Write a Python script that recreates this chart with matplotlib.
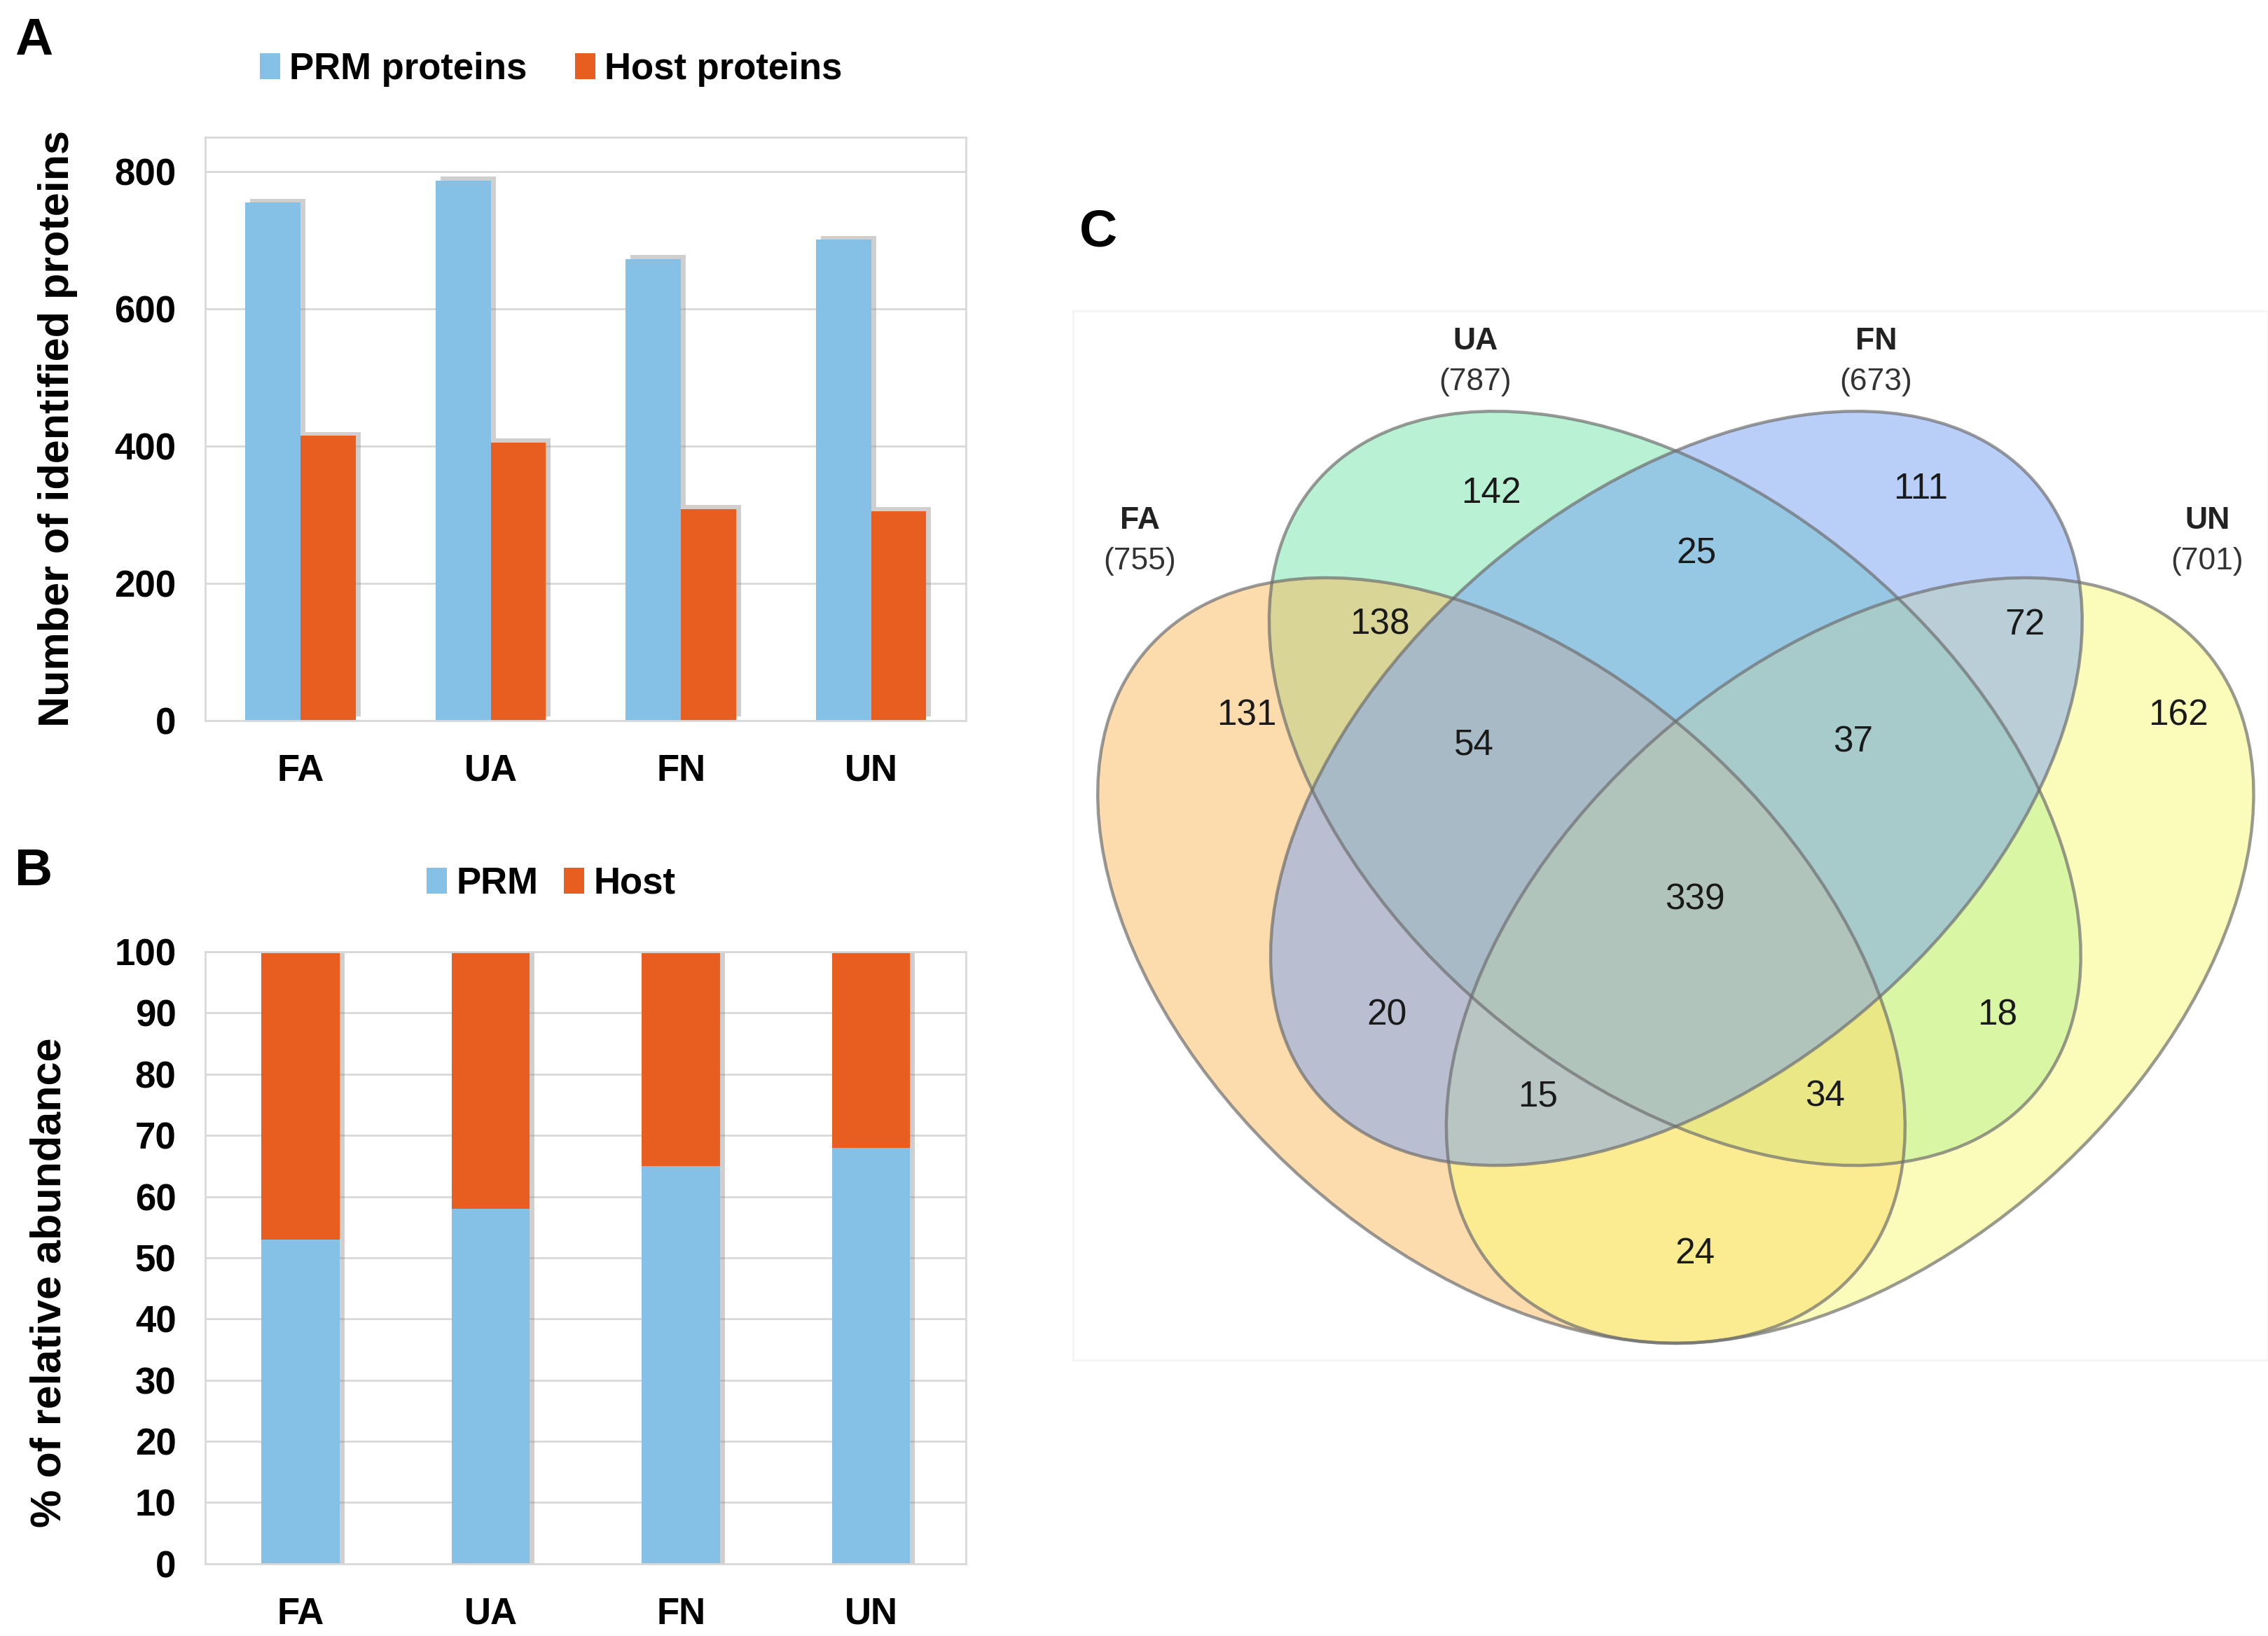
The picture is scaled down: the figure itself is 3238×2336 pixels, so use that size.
import numpy as np
import matplotlib.pyplot as plt
import matplotlib.patheffects as pe
from matplotlib.patches import Ellipse, Rectangle, Patch

plt.rcParams['font.family'] = ['Liberation Sans', 'DejaVu Sans']

# data
samples = ['FA', 'UA', 'FN', 'UN']
prm_counts = [755, 787, 673, 701]
host_counts = [415, 405, 308, 305]
prm_pct = [53, 58, 65, 68]
host_pct = [47, 42, 35, 32]

venn_sets = ['FA', 'UA', 'FN', 'UN']
venn_totals = [755, 787, 673, 701]
# membership string is (FA, UA, FN, UN)
venn_regions = ['1000', '0100', '0010', '0001', '1100', '0110', '0011', '1010',
                '0101', '1001', '1110', '0111', '1011', '1101', '1111']
venn_counts = [131, 142, 111, 162, 138, 25, 72, 20, 18, 24, 54, 37, 15, 34, 339]

BLUE = '#85c1e6'
ORANGE = '#e85e20'
GRID = '#d9d9d9'

# layout is worked out in a 1568 x 1131 reference frame
W, H = 1568.0, 1131.0


def box(x0, y0, x1, y1):
    return [x0 / W, 1 - y1 / H, (x1 - x0) / W, (y1 - y0) / H]


def style_axes(ax):
    for s in ax.spines.values():
        s.set_color(GRID)
        s.set_linewidth(1.0)
    ax.tick_params(length=0, labelsize=19, pad=15)
    ax.tick_params(axis='x', pad=17)
    for lab in ax.get_xticklabels() + ax.get_yticklabels():
        lab.set_fontweight('bold')
    ax.yaxis.grid(True, color=GRID, linewidth=1.0)
    ax.set_axisbelow(True)


def add_legend(ax, labels, cx, cy, colspace):
    handles = [Patch(facecolor=BLUE, label=labels[0]), Patch(facecolor=ORANGE, label=labels[1])]
    ax.legend(handles=handles, loc='center', bbox_to_anchor=(cx / W, 1 - cy / H),
              bbox_transform=fig.transFigure, ncol=2, frameon=False,
              prop={'weight': 'bold', 'size': 19},
              handlelength=0.55, handleheight=0.7, handletextpad=0.25, columnspacing=colspace)


fig = plt.figure(figsize=(16.19, 11.68), dpi=200)

# ---- panel A
axA = fig.add_axes(box(142, 95, 668, 498))
x = np.arange(len(samples))
bw = 0.29
b1 = axA.bar(x - bw / 2, prm_counts, bw, color=BLUE)
b2 = axA.bar(x + bw / 2, host_counts, bw, color=ORANGE)
for p in list(b1) + list(b2):
    p.set_path_effects([pe.SimplePatchShadow(offset=(2.5, 2.0), shadow_rgbFace='#888888', alpha=0.4),
                        pe.Normal()])
axA.set_xlim(-0.5, 3.5)
axA.set_ylim(0, 850)
axA.set_yticks([0, 200, 400, 600, 800])
axA.set_xticks(x)
axA.set_xticklabels(samples)
style_axes(axA)
axA.set_ylabel('Number of identified proteins', fontsize=22, fontweight='bold', labelpad=19)
add_legend(axA, ['PRM proteins', 'Host proteins'], 381, 48, 1.3)
fig.text(10 / W, 1 - 38 / H, 'A', fontsize=27, fontweight='bold', ha='left', va='baseline')

# ---- panel B
axB = fig.add_axes(box(142, 658, 668, 1081))
bw2 = 0.41
c1 = axB.bar(x, prm_pct, bw2, color=BLUE)
c2 = axB.bar(x, host_pct, bw2, bottom=prm_pct, color=ORANGE)
for p in list(c1) + list(c2):
    p.set_path_effects([pe.SimplePatchShadow(offset=(2.5, 0), shadow_rgbFace='#888888', alpha=0.4),
                        pe.Normal()])
axB.set_xlim(-0.5, 3.5)
axB.set_ylim(0, 100)
axB.set_yticks(range(0, 101, 10))
axB.set_xticks(x)
axB.set_xticklabels(samples)
style_axes(axB)
axB.set_ylabel('% of relative abundance', fontsize=22, fontweight='bold')
axB.yaxis.set_label_coords(-0.178, 0.46)
add_legend(axB, ['PRM', 'Host'], 381, 611, 0.7)
fig.text(10 / W, 1 - 612 / H, 'B', fontsize=27, fontweight='bold', ha='left', va='baseline')

# ---- panel C (Venn)
vx0, vy0, vx1, vy1 = 700, 180, 1568, 960
axC = fig.add_axes(box(vx0, vy0, vx1, vy1))
axC.set_xlim(vx0, vx1)
axC.set_ylim(vy1, vy0)
axC.axis('off')
axC.add_patch(Rectangle((742, 215), 826, 725, fill=False, edgecolor='#f4f4f4', linewidth=1.0))

# ellipse geometry (centre x, centre y, semi-major, semi-minor, angle), drawn UA, FA, UN, FN
ell = {
    'FA': (1038, 664, 326, 204, 41.5, '#fbbb5d'),
    'UA': (1158, 545, 326, 201, 40.3, '#73e5a9'),
    'FN': (1159, 545, 326, 201, -40.3, '#77a1f3'),
    'UN': (1279, 664, 326, 204, -41.5, '#fbfb77'),
}
for name in ['UA', 'FA', 'UN', 'FN']:
    cx, cy, a, b, ang, col = ell[name]
    axC.add_patch(Ellipse((cx, cy), 2 * a, 2 * b, angle=ang, facecolor=col, alpha=0.5, edgecolor='none'))
for name in ['UA', 'FA', 'UN', 'FN']:
    cx, cy, a, b, ang, col = ell[name]
    axC.add_patch(Ellipse((cx, cy), 2 * a, 2 * b, angle=ang, facecolor='none',
                          edgecolor='#6f6f6f', alpha=0.7, linewidth=1.6))

region_pos = {
    '1000': (862, 495), '0100': (1031, 341), '0010': (1328, 338), '0001': (1506, 495),
    '1100': (954, 432), '0110': (1173, 383), '0011': (1400, 432), '1010': (959, 702),
    '0101': (1381, 702), '1001': (1172, 867), '1110': (1019, 515), '0111': (1281, 513),
    '1011': (1063, 758), '1101': (1262, 758), '1111': (1172, 622),
}
for key, n in zip(venn_regions, venn_counts):
    px, py = region_pos[key]
    axC.text(px, py, str(n), fontsize=18.5, ha='center', va='center', color='#1a1a1a')

set_pos = {'FA': (788, 360), 'UA': (1020, 236), 'FN': (1297, 236), 'UN': (1526, 360)}
for name, tot in zip(venn_sets, venn_totals):
    px, py = set_pos[name]
    axC.text(px, py, name, fontsize=16, fontweight='bold', ha='center', va='center', color='#222222')
    axC.text(px, py + 28, '(%d)' % tot, fontsize=16, ha='center', va='center', color='#333333')

fig.text(746 / W, 1 - 170 / H, 'C', fontsize=27, fontweight='bold', ha='left', va='baseline')

fig.savefig('out.png', dpi=200, facecolor='white')
